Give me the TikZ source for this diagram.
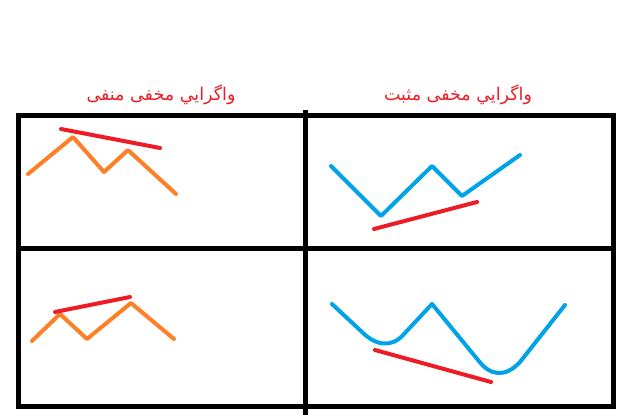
\documentclass[tikz,border=0pt]{standalone}
\usepackage{fontspec}
\newfontfamily\arabicfont[Script=Arabic]{DejaVu Sans}
\TeXXeTstate=1
\definecolor{paintred}{RGB}{237,28,36}
\definecolor{paintorange}{RGB}{255,127,39}
\definecolor{paintblue}{RGB}{0,162,232}
\tikzset{
  frame/.style={line width=5pt},
  price/.style={line width=4pt,line cap=round,line join=round},
  trend/.style={line width=4pt,line cap=round,paintred},
  caption/.style={text=paintred,font=\arabicfont\fontsize{17.5}{20}\selectfont}
}
\begin{document}
\begin{tikzpicture}[x=1pt,y=-1pt]
  \useasboundingbox (0,0) rectangle (630,417);
  % table
  \draw[frame]
    (18,116) coordinate (tl) (613,116) coordinate (tr)
    (18,406) coordinate (bl) (613,406) coordinate (br)
    (16,249) coordinate (ml) (615,249) coordinate (mr)
    (305,110) coordinate (mt) (305,415) coordinate (mb);
  \begin{scope}[frame]
    \draw (tl) -- (tr) -- (br) -- (bl) -- cycle;
    \draw (ml) -- (mr);
    \draw (mt) -- (mb);
  \end{scope}
  % titles
  \node[caption] (neg) at (161,95) {\beginR واگرايي مخفی منفی\endR};
  \node[caption] (pos) at (458,95) {\beginR واگرايي مخفی مثبت\endR};
  % negative, top
  \draw[price,paintorange] (28,174) -- (73,137) -- (104,172) -- (128,150) -- (176,194);
  \draw[trend] (61,129) -- (160,148);
  % negative, bottom
  \draw[price,paintorange] (32,341) -- (60,314) -- (87,339) -- (131,303) -- (174,339);
  \draw[trend] (55,312) -- (130,297);
  % positive, top
  \draw[price,paintblue] (331,166) -- (381,216) -- (432,166) -- (462,196) -- (520,155);
  \draw[trend] (374,229) -- (477,202);
  % positive, bottom
  \draw[price,paintblue] (332,304) -- (362,332) .. controls (376,346) and (392,348) .. (404,334)
    -- (432,304) -- (478,360) .. controls (490,376) and (505,378) .. (520,362) -- (565,305);
  \draw[trend] (375,350) -- (491,382);
\end{tikzpicture}
\end{document}
